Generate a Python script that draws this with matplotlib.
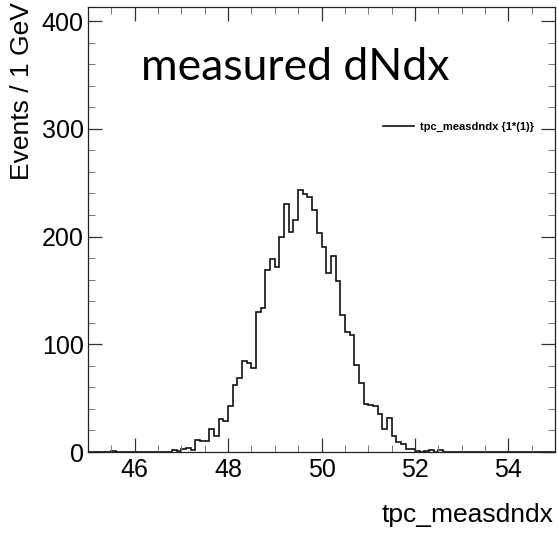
import numpy as np
import matplotlib
matplotlib.use("Agg")
import matplotlib.pyplot as plt
from matplotlib.ticker import MultipleLocator

# Histogram: 100 bins from 45 to 55
bin_edges = np.round(np.linspace(45.0, 55.0, 101), 3)
counts = np.zeros(100)
# non-zero bin contents (bin low edge -> count)
low_edges = [45.5,
             46.8, 46.9, 47.0, 47.1, 47.2, 47.3, 47.4, 47.5, 47.6, 47.7,
             47.8, 47.9, 48.0, 48.1, 48.2, 48.3, 48.4, 48.5, 48.6, 48.7,
             48.8, 48.9, 49.0, 49.1, 49.2, 49.3, 49.4, 49.5, 49.6, 49.7,
             49.8, 49.9, 50.0, 50.1, 50.2, 50.3, 50.4, 50.5, 50.6, 50.7,
             50.8, 50.9, 51.0, 51.1, 51.2, 51.3, 51.4, 51.5, 51.6, 51.7,
             51.8, 51.9, 52.0, 52.1, 52.2, 52.3, 52.4, 52.5]
values = [1,
          2, 1, 3, 4, 2, 11, 10, 10, 21, 15,
          31, 29, 43, 62, 69, 84, 83, 78, 130, 134,
          169, 179, 172, 200, 230, 204, 215, 243, 239, 237,
          225, 203, 190, 166, 182, 159, 127, 111, 109, 81,
          64, 45, 44, 43, 35, 21, 32, 15, 9, 7,
          3, 3, 1, 0, 1, 2, 0, 2]
for e, v in zip(low_edges, values):
    counts[int(round((e - 45.0) * 10))] = v

x_ticks = [46, 48, 50, 52, 54]
y_ticks = [0, 100, 200, 300, 400]
title_text = "measured dNdx"
legend_label = "tpc_measdndx {1*(1)}"
x_label = "tpc_measdndx"
y_label = "Events / 1 GeV"

W, H = 558, 533
fig = plt.figure(figsize=(W / 100, H / 100), dpi=100)
plt.rcParams['font.family'] = ['Liberation Sans', 'DejaVu Sans']

L, R, T, B = 88, 555, 7, 452
ax = fig.add_axes([L / W, 1 - B / H, (R - L) / W, (B - T) / H])

ax.stairs(counts, bin_edges, color='#111111', linewidth=1.2, label=legend_label)

ax.set_xlim(45, 55)
ax.set_ylim(0, 413)
ax.set_xticks(x_ticks)
ax.set_yticks(y_ticks)
ax.xaxis.set_minor_locator(MultipleLocator(0.5))
ax.yaxis.set_minor_locator(MultipleLocator(20))
ax.tick_params(which='both', direction='in', top=True, right=True, color='#333333')
ax.tick_params(which='major', length=10, width=0.9, labelsize=18)
ax.tick_params(which='minor', length=5, width=0.7, color='#777777')
ax.tick_params(axis='x', which='major', pad=4)
ax.tick_params(axis='y', which='major', pad=3)
for s in ax.spines.values():
    s.set_linewidth(0.9)
    s.set_color('#222222')

fig.text(553 / W, 1 - 522 / H, x_label, ha='right', va='baseline', fontsize=19)
fig.text(22 / W, 1 - 2 / H, y_label, ha='center', va='top', rotation=90, fontsize=19)

fig.text(141 / W, 1 - 80 / H, title_text, ha='left', va='baseline', fontsize=32,
         family=['Lato', 'DejaVu Sans'])

leg = ax.legend(loc='upper left', bbox_to_anchor=((383 - L) / (R - L), (B - 122) / (B - T)),
                frameon=False, handlelength=2.8, handletextpad=0.5, borderaxespad=0,
                borderpad=0, prop={'size': 8, 'weight': 'bold'})

fig.savefig("out.png", dpi=100)
